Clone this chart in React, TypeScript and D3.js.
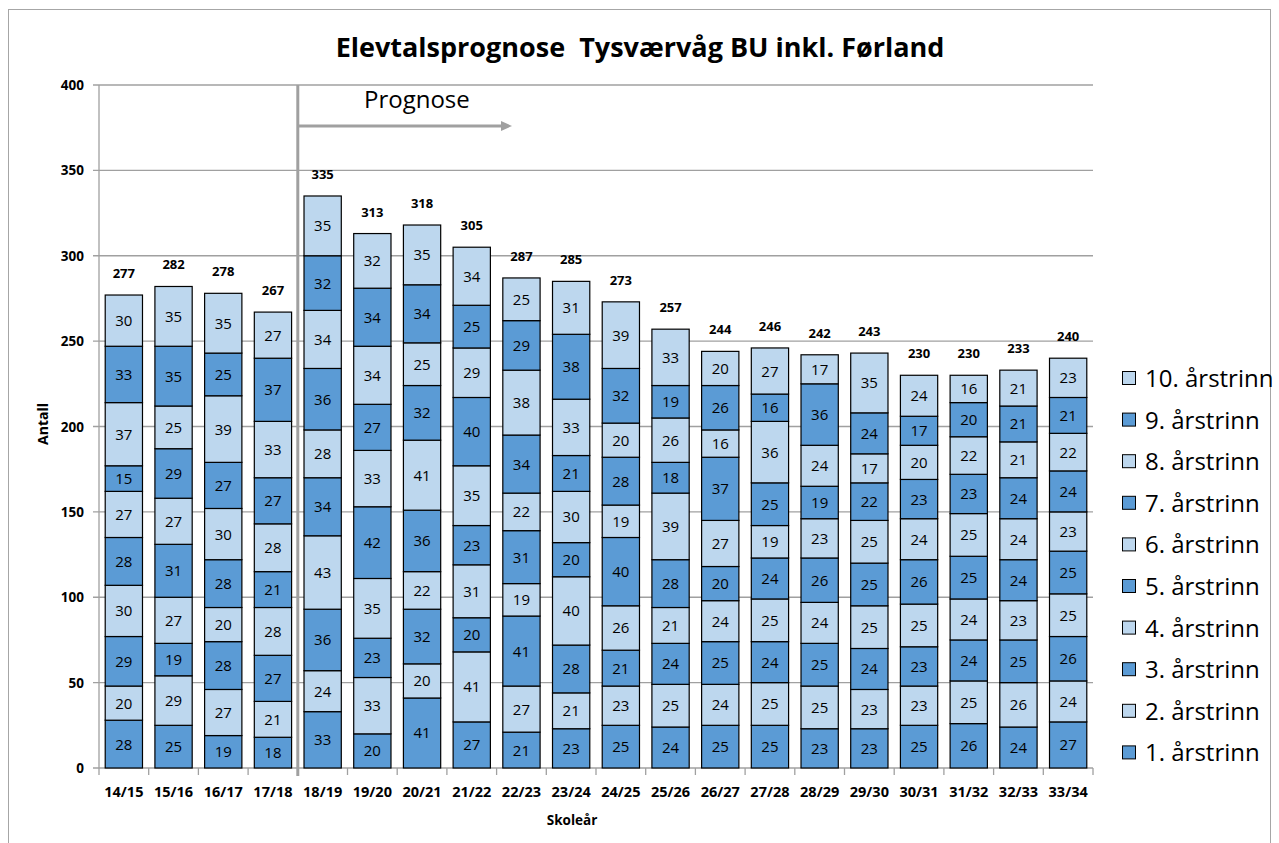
import React from "react";
import * as d3 from "d3";

const years = ["14/15","15/16","16/17","17/18","18/19","19/20","20/21","21/22","22/23","23/24","24/25","25/26","26/27","27/28","28/29","29/30","30/31","31/32","32/33","33/34"];
const seriesNames = ["1. årstrinn","2. årstrinn","3. årstrinn","4. årstrinn","5. årstrinn","6. årstrinn","7. årstrinn","8. årstrinn","9. årstrinn","10. årstrinn"];
const trinn1 = [28,25,19,18,33,20,41,27,21,23,25,24,25,25,23,23,25,26,24,27];
const trinn2 = [20,29,27,21,24,33,20,41,27,21,23,25,24,25,25,23,23,25,26,24];
const trinn3 = [29,19,28,27,36,23,32,20,41,28,21,24,25,24,25,24,23,24,25,26];
const trinn4 = [30,27,20,28,43,35,22,31,19,40,26,21,24,25,24,25,25,24,23,25];
const trinn5 = [28,31,28,21,34,42,36,23,31,20,40,28,20,24,26,25,26,25,24,25];
const trinn6 = [27,27,30,28,28,33,41,35,22,30,19,39,27,19,23,25,24,25,24,23];
const trinn7 = [15,29,27,27,36,27,32,40,34,21,28,18,37,25,19,22,23,23,24,24];
const trinn8 = [37,25,39,33,34,34,25,29,38,33,20,26,16,36,24,17,20,22,21,22];
const trinn9 = [33,35,25,37,32,34,34,25,29,38,32,19,26,16,36,24,17,20,21,21];
const trinn10 = [30,35,35,27,35,32,35,34,25,31,39,33,20,27,17,35,24,16,21,23];
const yTicks = [0,50,100,150,200,250,300,350,400];

const allSeries = [trinn1,trinn2,trinn3,trinn4,trinn5,trinn6,trinn7,trinn8,trinn9,trinn10];
const DARK = "#5B9BD5";
const LIGHT = "#BDD7EE";
const FONT = "'Open Sans', 'Noto Sans', sans-serif";

export default function App() {
  const W = 1279, H = 843;
  const left = 99, right = 1093, top = 85, bottom = 768;
  const x = d3.scaleBand<string>().domain(years).range([left, right]).paddingInner(0.25).paddingOuter(0.125);
  const y = d3.scaleLinear().domain([0, 400]).range([bottom, top]);

  const table = years.map((yr, i) => {
    const row: any = { year: yr };
    seriesNames.forEach((s, j) => (row[s] = allSeries[j][i]));
    return row;
  });
  const stack = d3.stack<any>().keys(seriesNames)(table);
  const totals = years.map((_, i) => allSeries.reduce((a, s) => a + s[i], 0));
  const step = x.step();
  const sepX = left + step * 4;

  return (
    <svg width={W} height={H} style={{ position: "absolute", left: 0, top: 0, background: "#fff" }}>
      <rect x={8.5} y={9.5} width={1262} height={860} fill="#fff" stroke="#a6a6a6" strokeWidth={1} />
      <text x={640} y={57} textAnchor="middle" fontFamily={FONT} fontWeight="bold" fontSize={27} fill="#000" style={{ whiteSpace: "pre" }}>
        {"Elevtalsprognose  Tysværvåg BU inkl. Førland"}
      </text>
      {yTicks.map((t) => (
        <g key={t}>
          <line x1={left - 6} x2={right} y1={y(t)} y2={y(t)} stroke="#a0a0a0" strokeWidth={1.3} />
          <text x={84} y={y(t) + 5} textAnchor="end" fontFamily={FONT} fontWeight="bold" fontSize={13.5} fill="#000">{t}</text>
        </g>
      ))}
      <line x1={left} x2={left} y1={top} y2={bottom} stroke="#a0a0a0" strokeWidth={1.3} />
      {d3.range(years.length + 1).map((i) => (
        <line key={i} x1={left + step * i} x2={left + step * i} y1={bottom} y2={bottom + 7} stroke="#a0a0a0" strokeWidth={1.3} />
      ))}
      {stack.map((layer, j) => (
        <g key={j}>
          {layer.map((d, i) => {
            const x0 = x(years[i])!;
            const y0 = y(d[1]);
            const h = y(d[0]) - y(d[1]);
            return (
              <g key={i}>
                <rect x={x0} y={y0} width={x.bandwidth()} height={h} fill={j % 2 === 0 ? DARK : LIGHT} stroke="#000" strokeWidth={1.2} />
                <text x={x0 + x.bandwidth() / 2} y={y0 + h / 2 + 5.5} textAnchor="middle" fontFamily={FONT} fontSize={15} fill="#000">
                  {allSeries[j][i]}
                </text>
              </g>
            );
          })}
        </g>
      ))}
      {totals.map((t, i) => (
        <text key={i} x={x(years[i])! + x.bandwidth() / 2} y={y(t) - 17} textAnchor="middle" fontFamily={FONT} fontWeight="bold" fontSize={13} fill="#000">{t}</text>
      ))}
      {years.map((yr) => (
        <text key={yr} x={x(yr)! + x.bandwidth() / 2} y={797} textAnchor="middle" fontFamily={FONT} fontWeight="bold" fontSize={14.5} fill="#000">{yr}</text>
      ))}
      <text x={572} y={825} textAnchor="middle" fontFamily={FONT} fontWeight="bold" fontSize={13.5} fill="#000">Skoleår</text>
      <text transform={`translate(48,424) rotate(-90)`} textAnchor="middle" fontFamily={FONT} fontWeight="bold" fontSize={14} fill="#000">Antall</text>
      <line x1={sepX} x2={sepX} y1={top} y2={bottom + 8} stroke="#a0a0a0" strokeWidth={3} />
      <line x1={sepX} x2={503} y1={126} y2={126} stroke="#a0a0a0" strokeWidth={3} />
      <path d="M 501 121 L 512 126 L 501 131 Z" fill="#a0a0a0" />
      <text x={364} y={108} fontFamily={FONT} fontSize={24} fill="#000">Prognose</text>
      {seriesNames.slice().reverse().map((s, k) => {
        const idx = seriesNames.length - 1 - k;
        const ly = 378 + k * 41.6;
        return (
          <g key={s}>
            <rect x={1122.5} y={ly - 6.5} width={13} height={13} fill={idx % 2 === 0 ? DARK : LIGHT} stroke="#000" strokeWidth={1} />
            <text x={1145} y={ly + 9} fontFamily={FONT} fontSize={24} fill="#000">{s}</text>
          </g>
        );
      })}
    </svg>
  );
}
